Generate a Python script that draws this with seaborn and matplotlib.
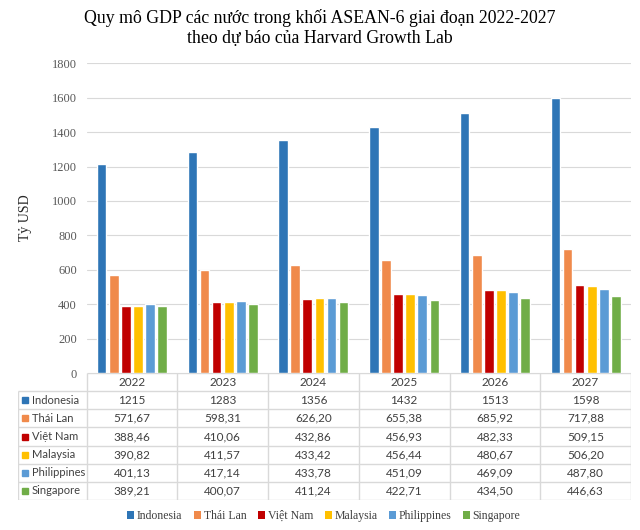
import numpy as np
import pandas as pd
import matplotlib
matplotlib.use('Agg')
import matplotlib.pyplot as plt
from matplotlib.patches import Patch
import seaborn as sns

years = ['2022', '2023', '2024', '2025', '2026', '2027']
countries = ['Indonesia', 'Thái Lan', 'Việt Nam', 'Malaysia', 'Philippines', 'Singapore']
indonesia = [1215, 1283, 1356, 1432, 1513, 1598]
thai_lan = [571.67, 598.31, 626.20, 655.38, 685.92, 717.88]
viet_nam = [388.46, 410.06, 432.86, 456.93, 482.33, 509.15]
malaysia = [390.82, 411.57, 433.42, 456.44, 480.67, 506.20]
philippines = [401.13, 417.14, 433.78, 451.09, 469.09, 487.80]
singapore = [389.21, 400.07, 411.24, 422.71, 434.50, 446.63]
colors = ['#2E75B6', '#F08A4B', '#C00000', '#FFC000', '#5B9BD5', '#70AD47']

series = [indonesia, thai_lan, viet_nam, malaysia, philippines, singapore]
df = pd.DataFrame([
    {'year': y, 'country': c, 'value': v}
    for c, vals in zip(countries, series)
    for y, v in zip(years, vals)
])


def fmt(v):
    if float(v).is_integer():
        return str(int(v))
    return f'{v:.2f}'.replace('.', ',')


def make_plot():
    sns.set_theme(style='white')
    plt.rcParams['font.family'] = ['Liberation Serif', 'DejaVu Serif']
    W, H = 640, 530

    def px(l, t, r, b):
        return [l / W, 1 - b / H, (r - l) / W, (b - t) / H]

    fig = plt.figure(figsize=(6.4, 5.3), dpi=100)
    grid_c = '#D9D9D9'

    # main bars
    ax = fig.add_axes(px(86.5, 63.3, 631, 373))
    sns.barplot(data=df, x='year', y='value', hue='country', palette=colors,
                ax=ax, width=0.8, gap=0.2, saturation=1, errorbar=None,
                legend=False)
    ax.set_xlim(-0.5, len(years) - 0.5)
    ax.set_ylim(0, 1800)
    ax.set_yticks(np.arange(0, 1801, 200))
    ax.yaxis.grid(True, color=grid_c, lw=0.8)
    ax.set_axisbelow(True)
    ax.set_xticklabels([])
    ax.set_xlabel('')
    ax.tick_params(axis='both', length=0)
    ax.tick_params(axis='y', labelsize=9, labelcolor='#595959', pad=7)
    for s in ax.spines.values():
        s.set_visible(False)
    ax.set_ylabel('Tỷ USD', fontsize=10, color='#262626')
    ax.yaxis.set_label_coords(-0.1, 0.5)

    # data table
    lab_w = 68.5 / 90.75
    n_rows = len(countries) + 1
    tab = fig.add_axes(px(18, 373, 631, 500))
    tab.set_xlim(-0.5 - lab_w, len(years) - 0.5)
    tab.set_ylim(n_rows, 0)
    tab.axis('off')
    left = -0.5 - lab_w
    right = len(years) - 0.5
    tab.hlines(0, -0.5, right, color=grid_c, lw=1)
    tab.hlines(np.arange(1, n_rows + 1), left, right, color=grid_c, lw=1)
    tab.vlines(left, 1, n_rows, color=grid_c, lw=1)
    tab.vlines(np.arange(len(years) + 1) - 0.5, 0, n_rows, color=grid_c, lw=1)
    tfont = dict(family=['Lato', 'DejaVu Sans'], color='#404040', va='center')
    for i, y in enumerate(years):
        tab.text(i, 0.5, y, ha='center', fontsize=8.5, **tfont)
    for r, (c, vals, col) in enumerate(zip(countries, series, colors)):
        yy = r + 1.5
        tab.plot([left + 0.077], [yy], marker='s', ms=4.5, color=col, ls='')
        tab.text(left + 0.15, yy, c, ha='left', fontsize=8, **tfont)
        for i, v in enumerate(vals):
            tab.text(i, yy, fmt(v), ha='center', fontsize=8.5, **tfont)

    # legend
    handles = [Patch(facecolor=c, edgecolor='none') for c in colors]
    fig.legend(handles, countries, ncol=6, loc='center',
               bbox_to_anchor=(0.506, 1 - 516 / H), frameon=False,
               fontsize=8.5, handlelength=0.6, handleheight=0.6,
               handletextpad=0.2, columnspacing=1.0,
               labelcolor='#404040')

    fig.text(0.5, 1 - 28 / H,
             'Quy mô GDP các nước trong khối ASEAN-6 giai đoạn 2022-2027\n'
             'theo dự báo của Harvard Growth Lab',
             ha='center', va='center', fontsize=12.8, linespacing=1.2,
             color='#000000')
    return fig


if __name__ == '__main__':
    fig = make_plot()
    fig.savefig('out.png', dpi=100)
    plt.close()
